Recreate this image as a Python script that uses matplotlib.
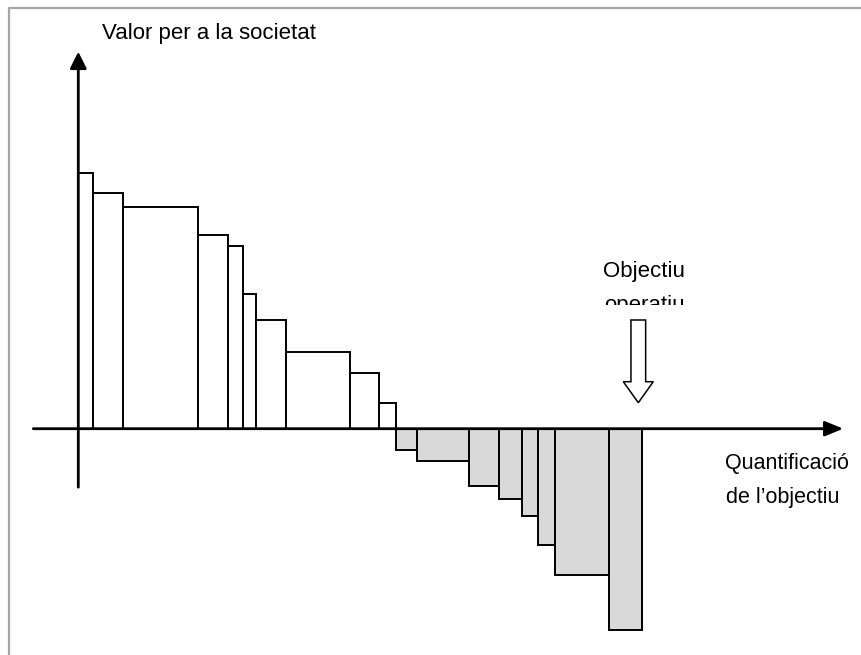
import matplotlib
matplotlib.use("Agg")
import matplotlib.pyplot as plt
import matplotlib.patches as patches
from matplotlib.lines import Line2D
from matplotlib.transforms import Bbox, TransformedBbox
import numpy as np

plt.rcParams["font.family"] = ["Liberation Sans", "DejaVu Sans"]

# ─── Data ─────────────────────────────────────────────────────────────────────
# positive contributions (value for society), widths = quantity of each measure
pos_widths = [1.5, 3.0, 7.5, 3.0, 1.44, 1.3, 3.0, 6.4, 2.96, 1.67]
pos_values = [25.6, 23.6, 22.2, 19.4, 18.3, 13.5, 10.9, 7.7, 5.6, 2.6]

# negative contributions
neg_widths = [2.13, 5.2, 3.0, 2.24, 1.63, 1.67, 5.46, 3.27]
neg_values = [-2.1, -3.2, -5.7, -7.0, -8.7, -11.6, -14.6, -20.1]

y_label = "Valor per a la societat"
x_label = ["Quantificació", "de l’objectiu"]
target_label = ["Objectiu", "operatiu"]
target_x = 56.0

# ─── Figure ───────────────────────────────────────────────────────────────────
W, H = 861, 655
fig = plt.figure(figsize=(W / 100, H / 100), dpi=100)
ax = fig.add_axes([0, 0, 1, 1])
ax.set_axis_off()

# 1 data unit = 10 px; origin at y-axis / baseline
x0_px, y0_px = 78.3, 428.7
ax.set_xlim(-x0_px / 10, (W - x0_px) / 10)
ax.set_ylim(-(H - y0_px) / 10, y0_px / 10)

all_widths = np.array(pos_widths + neg_widths)
lefts = np.concatenate([[0], np.cumsum(all_widths)[:-1]])
n_pos = len(pos_widths)

ax.bar(lefts[:n_pos], pos_values, width=pos_widths, align="edge",
       facecolor="white", edgecolor="black", linewidth=1.4, zorder=2)
ax.bar(lefts[n_pos:], neg_values, width=neg_widths, align="edge",
       facecolor="#d9d9d9", edgecolor="black", linewidth=1.4, zorder=2)

# axes arrows
ax.annotate("", xy=(76.5, 0), xytext=(-4.5, 0),
            arrowprops=dict(arrowstyle="-|>,head_length=1.1,head_width=0.45",
                            color="black", lw=2.0, shrinkA=0, shrinkB=0), zorder=3)
ax.annotate("", xy=(0, 37.7), xytext=(0, -5.85),
            arrowprops=dict(arrowstyle="-|>,head_length=1.0,head_width=0.5",
                            color="black", lw=2.0, shrinkA=0, shrinkB=0), zorder=3)

# hollow arrow pointing at the operational target
arrow = patches.FancyArrow(target_x, 10.87, 0, -8.27, width=1.47, head_width=3.0,
                           head_length=2.1, length_includes_head=True,
                           facecolor="white", edgecolor="black", linewidth=1.1)
ax.add_patch(arrow)

# labels
ax.text(2.34, 38.97, y_label, fontsize=16, ha="left", va="baseline")
ax.text(52.5, 15.14, target_label[0], fontsize=16, ha="left", va="baseline")
# second line is cut off in the original text box
t2 = ax.text(52.6, 11.8, target_label[1], fontsize=16, ha="left", va="baseline")
t2.set_clip_on(True)
t2.set_clip_box(TransformedBbox(Bbox([[45, 12.37], [65, 17]]), ax.transData))
ax.text(64.67, -4.06, x_label[0], fontsize=15.5, ha="left", va="baseline")
ax.text(64.77, -7.48, x_label[1], fontsize=15.5, ha="left", va="baseline")

# frame of the original picture (top and left edges only)
fig.add_artist(Line2D([8.5 / W, 8.5 / W, 1], [0, 1 - 7.5 / H, 1 - 7.5 / H],
                      transform=fig.transFigure, color="#a6a6a6", lw=1.6))

fig.savefig("out.png", dpi=100)
